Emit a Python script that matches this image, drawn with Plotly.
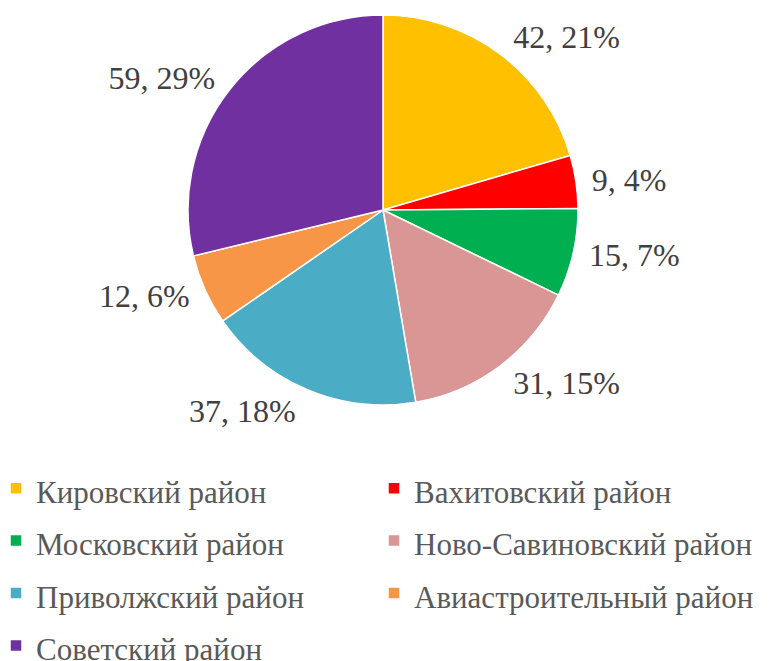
import plotly.graph_objects as go

districts = ["Кировский район", "Вахитовский район", "Московский район",
             "Ново-Савиновский район", "Приволжский район",
             "Авиастроительный район", "Советский район"]
counts = [42, 9, 15, 31, 37, 12, 59]
percent_labels = [21, 4, 7, 15, 18, 6, 29]
colors = ["#FFC000", "#FF0000", "#00B050", "#DA9694", "#4BACC6", "#F79646", "#7030A0"]

# page body has an 8px margin, so the figure is drawn 8px in from the window edge
OFF = 8
W, H = 769 - OFF, 661 - OFF
SERIF = "Times New Roman"
cx, cy, r = 383 - OFF, 210 - OFF, 195
r_lab = 202  # radius used only to place the outside value labels


def dom(rad):
    return dict(x=[max(0, (cx - rad) / W), min(1, (cx + rad) / W)],
                y=[max(0, 1 - (cy + rad) / H), min(1, 1 - (cy - rad) / H)])


legend_labels = [f"<span style='font-size:31px'>{d}</span>" for d in districts]

fig = go.Figure()
# visible pie
fig.add_trace(go.Pie(
    labels=legend_labels,
    values=counts,
    sort=False,
    direction="clockwise",
    rotation=0,
    marker=dict(colors=colors, line=dict(color="white", width=1.5)),
    textinfo="none",
    domain=dom(r),
    hovertemplate="%{value}, %{percent}<extra></extra>",
))
# transparent companion pie carrying the outside data labels
fig.add_trace(go.Pie(
    labels=legend_labels,
    values=counts,
    customdata=percent_labels,
    sort=False,
    direction="clockwise",
    rotation=0,
    marker=dict(colors=["rgba(0,0,0,0)"] * len(counts), line=dict(width=0)),
    textposition="outside",
    texttemplate="%{value}, %{customdata}%",
    textfont=dict(family=SERIF, size=32, color="#404040"),
    domain=dom(r_lab),
    showlegend=False,
    hoverinfo="skip",
))

fig.update_layout(
    width=W, height=H,
    margin=dict(l=0, r=0, t=0, b=0, autoexpand=False),
    paper_bgcolor="white",
    plot_bgcolor="white",
    showlegend=True,
    legend=dict(
        orientation="h",
        x=0.0, xanchor="left",
        y=1 - 449 / H, yanchor="top",
        entrywidth=345, entrywidthmode="pixels",
        itemwidth=30,
        indentation=-12,
        bgcolor="rgba(0,0,0,0)",
        font=dict(family=SERIF, size=38, color="#595959"),
        traceorder="normal",
    ),
)

fig.write_html("out.html")
